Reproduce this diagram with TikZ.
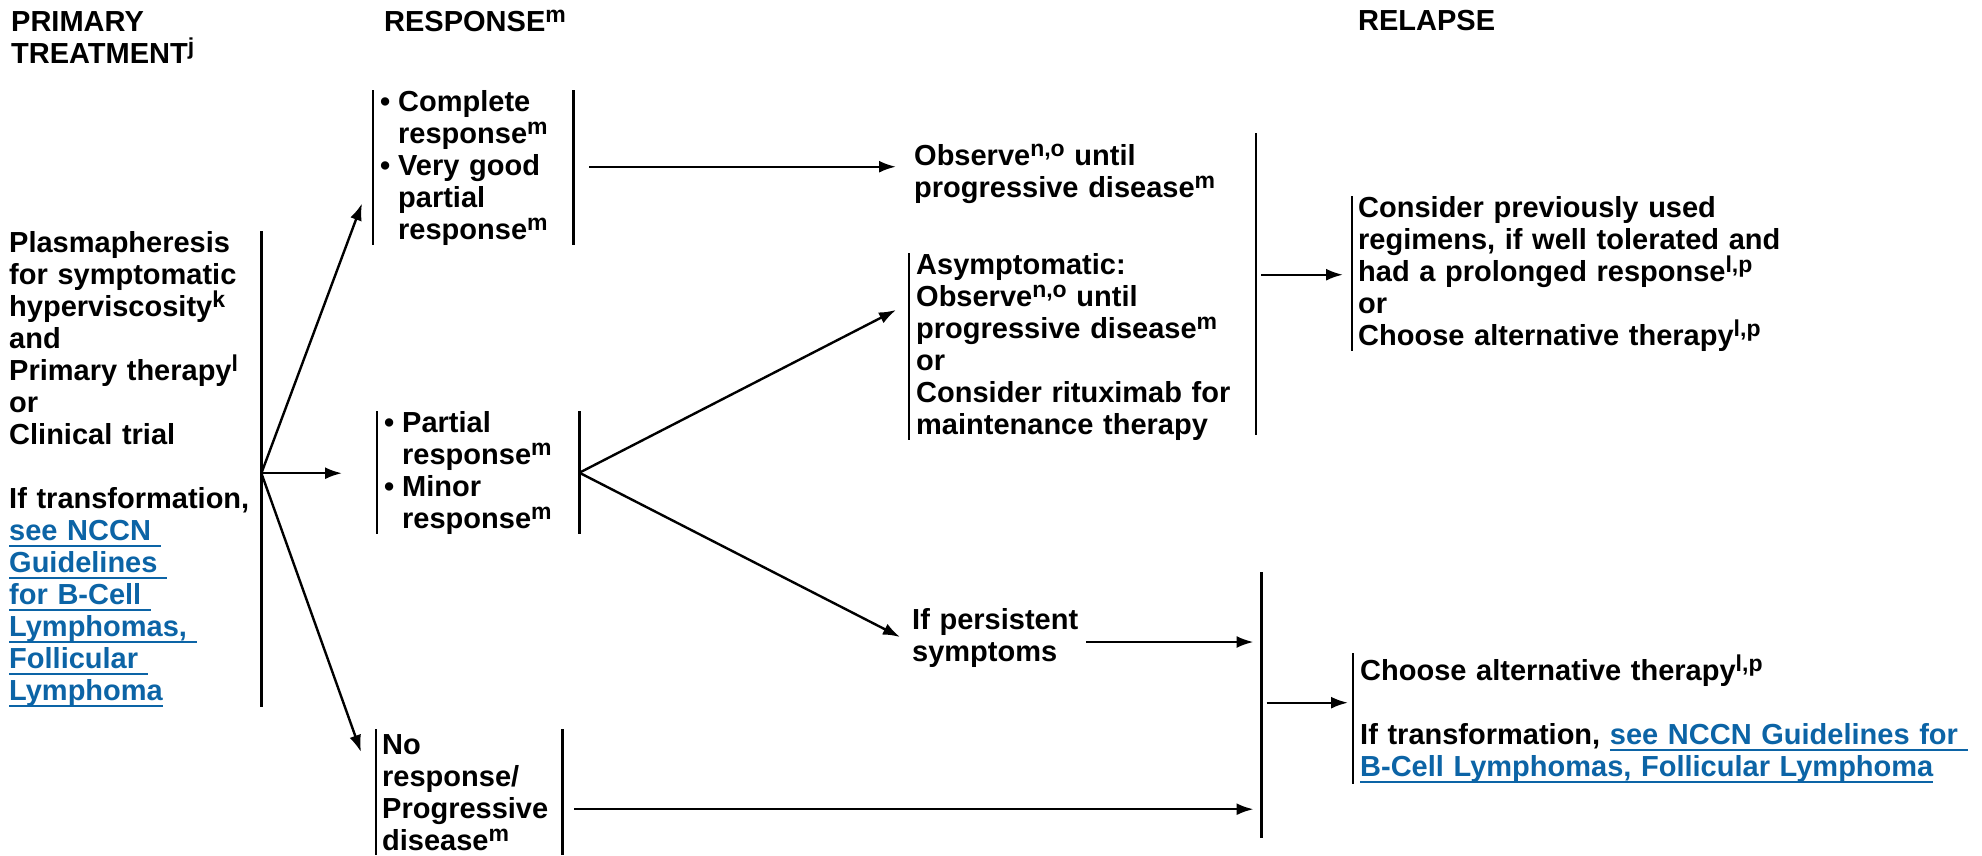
\documentclass[tikz,border=0pt]{standalone}
\usepackage{fontspec}
\setmainfont{Liberation Sans}
\usetikzlibrary{arrows.meta,calc}
\definecolor{linkblue}{RGB}{12,100,166}
\newcommand\spr[1]{\raisebox{9pt}{\fontsize{23}{23}\selectfont #1}}
\newcommand\lnk[1]{\leavevmode\setbox0\hbox{\color{linkblue}#1}{\color{linkblue}\rlap{\rule[-7pt]{\wd0}{2pt}}}\box0}
\newcommand\bul{\makebox[18pt][l]{\textbullet}}
\newcommand\ind{\hspace*{18pt}}
\tikzset{
  txt/.style={inner sep=0pt, align=left, font=\fontsize{29}{32}\selectfont\bfseries},
  bar/.style={line width=2.4pt},
  arr/.style={line width=2.4pt, -{Latex[length=17pt,width=12pt]}},
  collector/.style={inner sep=0pt, minimum width=0pt, anchor=north}
}
\begin{document}
\begin{tikzpicture}[x=1pt,y=-1pt]
\useasboundingbox (0,0) rectangle (1982,855);
% headers
\node[txt, anchor=north west, text width=300pt] (hprim) at (11,10.9) {PRIMARY\\TREATMENT\spr{j}};
\node[txt, anchor=base west] (hresp) at (384,31.7) {RESPONSE\spr{m}};
\node[txt, anchor=base west] (hrel) at (1358,30.7) {RELAPSE};
% primary treatment
\node[txt, anchor=north west, text width=252pt, minimum height=473pt] (prim) at (9,231) {Plasmapheresis\\
for symptomatic\\
hyperviscosity\spr{k}\\
and\\
Primary therapy\spr{l}\\
or\\
Clinical trial\\[32pt]
If transformation,\\
\lnk{see NCCN\ }\\
\lnk{Guidelines\ }\\
\lnk{for B-Cell\ }\\
\lnk{Lymphomas,\ }\\
\lnk{Follicular\ }\\
\lnk{Lymphoma}};
\draw[bar] (prim.north east) -- (prim.south east);
\coordinate (src) at ($(prim.east)+(0,4)$);
% response boxes
\node[txt, anchor=north west, inner xsep=7pt, text width=186pt, minimum height=153pt] (complete) at (373,90)
  {\bul Complete\\\ind response\spr{m}\\\bul Very good\\\ind partial\\\ind response\spr{m}};
\draw[bar] (complete.north west) -- (complete.south west);
\draw[bar] (complete.north east) -- (complete.south east);
\node[txt, anchor=north west, inner xsep=7pt, text width=188pt, minimum height=120pt] (partial) at (377,411)
  {\bul Partial\\\ind response\spr{m}\\\bul Minor\\\ind response\spr{m}};
\draw[bar] (partial.north west) -- (partial.south west);
\draw[bar] (partial.north east) -- (partial.south east);
\node[txt, anchor=north west, inner xsep=6pt, text width=174pt, minimum height=126pt] (noresp) at (376,729)
  {No\\response/\\Progressive\\disease\spr{m}};
\draw[bar] (noresp.north west) -- (noresp.south west);
\draw[bar] (noresp.north east) -- (noresp.south east);
% middle column
\node[txt, anchor=west, text width=330pt] (observe) at (914,174) {Observe\spr{n,o} until\\progressive disease\spr{m}};
\node[txt, anchor=north west, inner xsep=7pt, text width=330pt, minimum height=184pt] (asympt) at (909,253)
  {Asymptomatic:\\Observe\spr{n,o} until\\progressive disease\spr{m}\\or\\Consider rituximab for\\maintenance therapy};
\draw[bar] (asympt.north west) -- (asympt.south west);
\node[txt, anchor=west, text width=170pt] (persist) at (912,638) {If persistent\\symptoms};
% collectors
\node[collector, minimum height=302pt] (coll1) at (1256,133) {};
\draw[bar] (coll1.north) -- (coll1.south);
\node[collector, minimum height=266pt] (coll2) at (1261.5,572) {};
\draw[bar] (coll2.north) -- (coll2.south);
% relapse column
\node[txt, anchor=north west, inner xsep=6pt, text width=440pt, minimum height=152pt] (consider) at (1352,196)
  {Consider previously used\\regimens, if well tolerated and\\had a prolonged response\spr{l,p}\\or\\Choose alternative therapy\spr{l,p}};
\draw[bar] (consider.north west) -- (consider.south west);
\node[txt, anchor=north west, inner xsep=7pt, text width=615pt, minimum height=131pt] (choose) at (1353,653)
  {Choose alternative therapy\spr{l,p}\\[32pt]If transformation, \lnk{see NCCN Guidelines for\ }\\\lnk{B-Cell Lymphomas, Follicular Lymphoma}};
\draw[bar] (choose.north west) -- (choose.south west);
% arrows
\draw[arr] (src) -- ($(complete.south west)+(-11,-42)$);
\draw[arr] (src) -- ($(src -| partial.west)+(-35,0)$);
\draw[arr] (src) -- ($(noresp.north west)+(-15,23)$);
\draw[arr] ($(complete.east)+(16,-1)$) -- ($(complete.east -| observe.west)+(-18,-1)$);
\draw[arr] (partial.east) -- ($(asympt.north west)+(-13,57)$);
\draw[arr] (partial.east) -- ($(persist.west)+(-12,-1)$);
\draw[arr] ($(persist.west)+(174,4)$) -- ($(coll2.center |- persist.west)+(-8,4)$);
\draw[arr] ($(noresp.east)+(12,17)$) -- ($(coll2.center |- noresp.east)+(-8,17)$);
\draw[arr] ($(coll1.center |- consider.west)+(5,1)$) -- ($(consider.west)+(-9,1)$);
\draw[arr] ($(coll2.center |- choose.west)+(5,-16)$) -- ($(choose.west)+(-5,-16)$);
\end{tikzpicture}
\end{document}
